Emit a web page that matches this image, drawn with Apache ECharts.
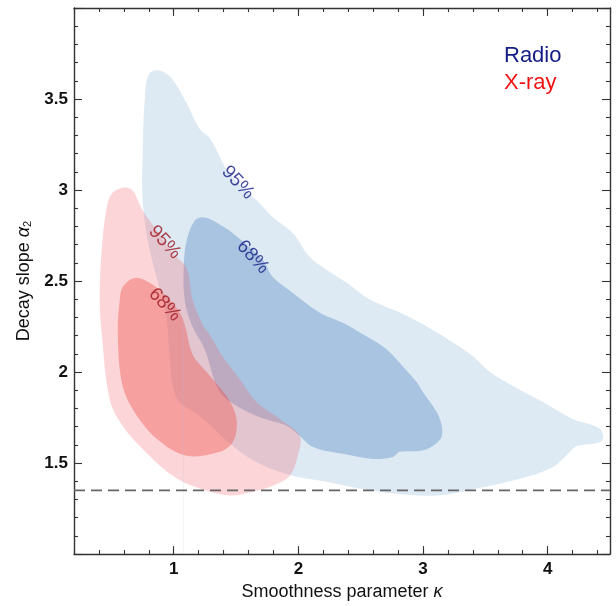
<!DOCTYPE html>
<html>
<head>
<meta charset="utf-8">
<script src="https://cdn.jsdelivr.net/npm/echarts@6/dist/echarts.min.js"></script>
<style>html,body{margin:0;padding:0;background:#fff;}#chart{width:616px;height:606px;}</style>
</head>
<body>
<div id="chart"></div>
<script>
// ---- Data ----
const xRange = [0.2, 4.5];
const yRange = [1.0, 4.0];
const xMajorTicks = [1, 2, 3, 4];
const xMinorStep = 0.2;
const yMajorLabels = [1.5, 2, 2.5, 3, 3.5];
const yMajorStep = 0.5;
const yMinorPerMajor = 5;

// Radio 95% contour (kappa, alpha2)
const radio95 = [
  [0.799, 3.635], [0.888, 3.657], [0.984, 3.613], [1.096, 3.487], [1.209, 3.335], [1.289, 3.286],
  [1.449, 3.089], [1.690, 2.926], [1.795, 2.850], [1.955, 2.763], [2.091, 2.632], [2.228, 2.561],
  [2.388, 2.490], [2.573, 2.398], [2.814, 2.327], [3.030, 2.251], [3.239, 2.163], [3.400, 2.087],
  [3.536, 2.000], [3.721, 1.924], [3.961, 1.836], [4.202, 1.742], [4.419, 1.688], [4.435, 1.622],
  [4.234, 1.594], [4.178, 1.562], [4.122, 1.523], [4.018, 1.469], [3.777, 1.414], [3.432, 1.360],
  [3.111, 1.322], [2.758, 1.333], [2.493, 1.360], [2.228, 1.398], [1.955, 1.431], [1.690, 1.496],
  [1.474, 1.594], [1.209, 1.758], [1.048, 1.833], [0.992, 1.922], [0.968, 2.070], [0.944, 2.287],
  [0.912, 2.396], [0.848, 2.560], [0.791, 2.724], [0.751, 2.942], [0.751, 3.215], [0.767, 3.487]
];
// Radio 68% contour
const radio68 = [
  [1.169, 2.833], [1.233, 2.850], [1.313, 2.833], [1.474, 2.763], [1.714, 2.615], [1.795, 2.522],
  [1.955, 2.435], [2.172, 2.326], [2.356, 2.271], [2.549, 2.195], [2.709, 2.124], [2.838, 2.031],
  [2.950, 1.944], [2.998, 1.890], [3.079, 1.813], [3.135, 1.742], [3.151, 1.649], [3.079, 1.594],
  [2.974, 1.567], [2.814, 1.562], [2.758, 1.534], [2.597, 1.523], [2.356, 1.551], [2.116, 1.589],
  [2.011, 1.649], [1.907, 1.704], [1.666, 1.758], [1.425, 1.851], [1.345, 1.922], [1.249, 2.124],
  [1.144, 2.260], [1.088, 2.396], [1.080, 2.576], [1.104, 2.724]
];
// X-ray 95% contour
const xray95 = [
  [0.510, 2.986], [0.599, 3.013], [0.671, 2.997], [0.751, 2.887], [0.864, 2.778], [0.992, 2.653],
  [1.104, 2.571], [1.152, 2.396], [1.233, 2.260], [1.289, 2.205], [1.393, 2.085], [1.530, 1.960],
  [1.666, 1.834], [1.851, 1.742], [2.011, 1.649], [1.995, 1.540], [1.931, 1.431], [1.795, 1.376],
  [1.634, 1.343], [1.449, 1.322], [1.209, 1.360], [0.992, 1.431], [0.751, 1.578], [0.591, 1.704],
  [0.486, 1.851], [0.422, 2.216], [0.406, 2.396], [0.422, 2.669], [0.462, 2.903]
];
// X-ray 68% contour
const xray68 = [
  [0.591, 2.468], [0.687, 2.517], [0.807, 2.490], [0.944, 2.413], [1.048, 2.326], [1.088, 2.260],
  [1.152, 2.097], [1.265, 1.999], [1.425, 1.867], [1.490, 1.780], [1.506, 1.704], [1.474, 1.616],
  [1.369, 1.562], [1.104, 1.540], [0.864, 1.633], [0.671, 1.796], [0.583, 1.944], [0.551, 2.216],
  [0.567, 2.396]
];
// Contour level labels
const radioLabels = [
  { name: '95%', value: [1.514, 3.041] },
  { name: '68%', value: [1.634, 2.631] }
];
const xrayLabels = [
  { name: '95%', value: [0.928, 2.713] },
  { name: '68%', value: [0.928, 2.370] }
];
// Horizontal reference level and faint vertical trace
const refLevel = [[0.2, 1.35], [4.5, 1.35]];
const faintTrace = [[1.078, 1.0], [1.078, 2.29]];

// ---- Styling ----
const FONT = '"Liberation Sans", Arial, Helvetica, sans-serif';
const AXIS_COLOR = '#333';
const NAVY = '#141c86';
const RED = '#f01414';
const DARKRED = '#9e1620';

function polygonSeries(name, pts, fill) {
  return {
    type: 'custom', name: name, xAxisIndex: 0, yAxisIndex: 0,
    coordinateSystem: 'cartesian2d',
    data: pts,
    silent: true,
    renderItem: function (params, api) {
      if (params.dataIndex !== 0) return null;
      const points = pts.map(function (p) { return api.coord(p); });
      return { type: 'polygon', shape: { points: points, smooth: 0.35 }, style: { fill: fill } };
    }
  };
}

function labelSeries(name, data, color) {
  return {
    type: 'scatter', name: name, xAxisIndex: 0, yAxisIndex: 0,
    data: data, symbolSize: 1, itemStyle: { color: 'rgba(0,0,0,0)' }, silent: true,
    label: { show: true, position: 'inside', formatter: '{b}', rotate: -47,
             fontSize: 19, fontFamily: FONT, color: color }
  };
}

const tickLine = { color: AXIS_COLOR, width: 1.1 };
const labelStyle = { fontSize: 17, fontWeight: 'bold', fontFamily: FONT, color: '#111' };
const axisLineStyle = { color: AXIS_COLOR, width: 1.4 };

// x: major ticks at integers (custom values), minor every 0.2 (interval from min 0.2)
function xMajor(pos, withLabels, extra) {
  return Object.assign({
    type: 'value', position: pos, min: xRange[0], max: xRange[1],
    axisLine: { show: true, onZero: false, lineStyle: axisLineStyle },
    axisTick: { show: true, inside: true, length: 8, customValues: xMajorTicks, lineStyle: tickLine },
    axisLabel: Object.assign({ show: withLabels, customValues: xMajorTicks, margin: 7 }, labelStyle),
    splitLine: { show: false }
  }, extra || {});
}
function xMinor(pos) {
  return {
    type: 'value', position: pos, min: xRange[0], max: xRange[1], interval: xMinorStep,
    axisLine: { show: false, onZero: false },
    axisTick: { show: true, inside: true, length: 4, lineStyle: tickLine },
    axisLabel: { show: false },
    splitLine: { show: false }
  };
}
function yAxisDef(pos, withLabels, extra) {
  return Object.assign({
    type: 'value', position: pos, min: yRange[0], max: yRange[1], interval: yMajorStep,
    axisLine: { show: true, onZero: false, lineStyle: axisLineStyle },
    axisTick: { show: true, inside: true, length: 8, lineStyle: tickLine },
    minorTick: { show: true, splitNumber: yMinorPerMajor, length: 4, lineStyle: tickLine },
    axisLabel: Object.assign({ show: withLabels, customValues: yMajorLabels, margin: 6 }, labelStyle),
    splitLine: { show: false },
    minorSplitLine: { show: false }
  }, extra || {});
}

const chart = echarts.init(document.getElementById('chart'), null, { renderer: 'canvas' });
chart.setOption({
  animation: false,
  backgroundColor: '#fff',
  grid: { left: 74, right: 6, top: 8, bottom: 50, containLabel: false },
  legend: {
    orient: 'vertical', left: 494, top: 40, itemGap: 5, itemWidth: 0, itemHeight: 14,
    icon: 'none', selectedMode: false,
    textStyle: { fontSize: 22, fontFamily: FONT },
    data: [
      { name: 'Radio', textStyle: { color: NAVY } },
      { name: 'X-ray', textStyle: { color: RED } }
    ]
  },
  xAxis: [
    xMajor('bottom', true, {
      name: 'Smoothness parameter {i|κ}', nameLocation: 'middle', nameGap: 25,
      nameTextStyle: { fontSize: 18, fontFamily: FONT, color: '#111',
                       rich: { i: { fontSize: 18, fontStyle: 'italic', fontFamily: FONT, color: '#111' } } }
    }),
    xMinor('bottom'),
    xMajor('top', false),
    xMinor('top')
  ],
  yAxis: [
    yAxisDef('left', true, {
      name: 'Decay slope {i|α}{sub|2}', nameLocation: 'middle', nameGap: 38,
      nameTextStyle: { fontSize: 18, fontFamily: FONT, color: '#111',
                       rich: { i: { fontSize: 18, fontStyle: 'italic', fontFamily: FONT, color: '#111' },
                               sub: { fontSize: 11, fontFamily: FONT, color: '#111', verticalAlign: 'bottom', padding: [6, 0, 0, 0] } } }
    }),
    yAxisDef('right', false)
  ],
  series: [
    polygonSeries('Radio', radio95, '#dde9f3'),
    polygonSeries('Radio', radio68, '#a9c4e0'),
    {
      type: 'line', name: 'trace', xAxisIndex: 0, yAxisIndex: 0, data: faintTrace,
      symbol: 'none', silent: true, lineStyle: { color: 'rgba(190,190,215,0.18)', width: 1 }
    },
    polygonSeries('X-ray', xray95, 'rgba(244,100,111,0.27)'),
    polygonSeries('X-ray', xray68, 'rgba(240,70,65,0.37)'),
    labelSeries('radio-levels', radioLabels, NAVY),
    labelSeries('xray-levels', xrayLabels, DARKRED),
    {
      type: 'line', name: 'level', xAxisIndex: 0, yAxisIndex: 0, data: refLevel,
      symbol: 'none', silent: true, z: 5,
      lineStyle: { color: '#666', width: 1.6, type: [11, 6] }
    }
  ]
});
</script>
</body>
</html>
